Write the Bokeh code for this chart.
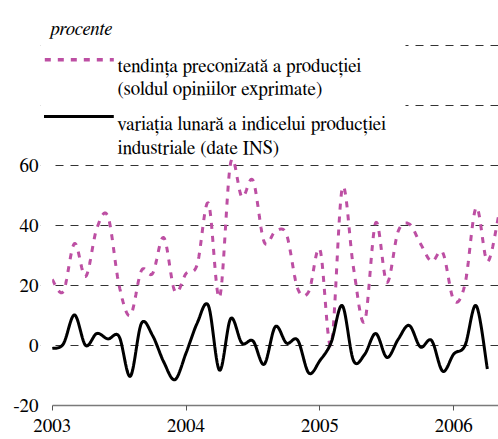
import numpy as np
from bokeh.plotting import figure
from bokeh.models import FixedTicker, BoxAnnotation, Label, Range1d
from bokeh.embed import file_html
from bokeh.resources import INLINE

# ---- data (monthly, starting January 2003) ----
start_year = 2003
expectations = [22, 18, 34, 23, 39, 43, 20, 10, 25, 24, 36, 18,
                24, 27, 47.5, 16, 61, 49.5, 55, 34.5, 38, 37, 19, 18,
                32, 0, 52.5, 26, 8, 41, 21, 38, 40.5, 34, 28, 31,
                15, 20.5, 46, 28, 43]
production = [-1, 0.5, 10.2, 0, 4, 2.2, 3, -10.3, 7.4, 3.3, -5.5, -11.4,
              -2.5, 7.5, 13.3, -8.3, 9, 0.8, 1.5, -6.3, 6.3, 0.8, 1.8, -9.2,
              -5, 1, 13.3, -5, -3, 4, -4, 2, 6.7, -0.5, 1.7, -8.6,
              -2.8, 0, 13.3, -7.8]
year_ticks = [2003, 2004, 2005, 2006]
year_labels = ["2003", "2004", "2005", "2006"]
value_ticks = [-20, 0, 20, 40, 60]
value_labels = ["-20", "0", "20", "40", "60"]
grid_ticks = [0, 20, 40, 60, 80, 100]
unit_label = "procente"
legend_exp = ["tendința preconizată a producției", "(soldul opiniilor exprimate)"]
legend_prod = ["variația lunară a indicelui producției", "industriale (date INS)"]

PINK = "#bd4fa3"
FONT = "FreeSerif"


def smooth(xs, ys, n=14):
    """Excel-like smoothed line (cubic Bezier through the points)."""
    xs = np.asarray(xs, float)
    ys = np.asarray(ys, float)
    P = np.column_stack([xs, ys])
    P = np.vstack([P[0], P, P[-1]])
    out = [P[1]]
    t = np.linspace(0, 1, n + 1)[1:][:, None]
    for i in range(1, len(P) - 2):
        p0, p1, p2, p3 = P[i - 1], P[i], P[i + 1], P[i + 2]
        b1 = p1 + (p2 - p0) / 6.0
        b2 = p2 - (p3 - p1) / 6.0
        seg = ((1 - t) ** 3) * p1 + 3 * ((1 - t) ** 2) * t * b1 + 3 * (1 - t) * t ** 2 * b2 + t ** 3 * p2
        out.extend(seg)
    out = np.array(out)
    return out[:, 0], out[:, 1]


x_exp = start_year + np.arange(len(expectations)) / 12.0
x_prod = start_year + np.arange(len(production)) / 12.0

PX_PER_YEAR = 133.9
X0_PAGE = 51.67
FRAME_LEFT_PAGE = 40
x_start = 2003 - (X0_PAGE - FRAME_LEFT_PAGE) / PX_PER_YEAR
frame_w = 458
x_end = x_start + frame_w / PX_PER_YEAR
frame_h = 405
y_start = -20
y_end = y_start + frame_h / 3.0


def xd(px):
    return 2003 + (px - X0_PAGE) / PX_PER_YEAR


def yd(py):
    return (345 - py) / 3.0


p = figure(frame_width=frame_w, frame_height=frame_h,
           x_range=Range1d(x_start, x_end), y_range=Range1d(y_start, y_end),
           output_backend="svg", toolbar_location=None,
           min_border_left=FRAME_LEFT_PAGE, min_border_right=0, min_border_top=0,
           min_border_bottom=34)
p.outline_line_color = None
p.background_fill_color = "white"
p.border_fill_color = "white"

p.xgrid.visible = False
p.ygrid.ticker = FixedTicker(ticks=grid_ticks)
p.ygrid.grid_line_color = "#333333"
p.ygrid.grid_line_dash = "8 7"
p.ygrid.grid_line_width = 1

p.xaxis.ticker = FixedTicker(ticks=year_ticks)
p.xaxis.major_label_overrides = dict(zip(year_ticks, year_labels))
p.xaxis.bounds = (2003, x_end)
p.xaxis.axis_line_color = "#7a7a7a"
p.xaxis.axis_line_width = 1.3
p.xaxis.major_tick_line_color = "#555555"
p.xaxis.major_tick_out = 5
p.xaxis.major_tick_in = 0
p.xaxis.minor_tick_line_color = None
p.xaxis.major_label_text_font = FONT
p.xaxis.major_label_text_font_size = "19px"
p.xaxis.major_label_text_color = "black"
p.xaxis.major_label_standoff = 8

p.yaxis.ticker = FixedTicker(ticks=value_ticks)
p.yaxis.major_label_overrides = dict(zip(value_ticks, value_labels))
p.yaxis.axis_line_color = None
p.yaxis.major_tick_line_color = None
p.yaxis.minor_tick_line_color = None
p.yaxis.major_tick_out = 0
p.yaxis.major_label_text_font = FONT
p.yaxis.major_label_text_font_size = "19px"
p.yaxis.major_label_text_color = "black"
p.yaxis.major_label_standoff = 2

sx, sy = smooth(x_exp, expectations)
p.line(sx, sy, line_color=PINK, line_width=3, line_dash="6 7")
bx, by = smooth(x_prod, production)
p.line(bx, by, line_color="black", line_width=3)

p.add_layout(BoxAnnotation(right=2003, fill_color="white", fill_alpha=1, line_color=None))
p.add_layout(BoxAnnotation(right=xd(405), bottom=70, fill_color="white", fill_alpha=1, line_color=None))

p.line([xd(44.3), xd(113.3)], [yd(59.3), yd(59.3)], line_color=PINK, line_width=3.5,
       line_dash="6 7", level="overlay")
p.line([xd(43.5), xd(113.3)], [yd(116), yd(116)], line_color="black", line_width=3,
       level="overlay")


def add_text(txt, px, py, style="normal"):
    p.add_layout(Label(x=xd(px), y=yd(py), text=txt, text_font=FONT,
                       text_font_size="19px", text_font_style=style,
                       text_color="black", text_baseline="alphabetic",
                       text_align="left", level="overlay"))


add_text(unit_label, 50, 29.3, "italic")
add_text(legend_exp[0], 117, 65.7)
add_text(legend_exp[1], 117, 89.3)
add_text(legend_prod[0], 117, 124)
add_text(legend_prod[1], 117, 147.7)

open("out.html", "w").write(file_html(p, INLINE))
